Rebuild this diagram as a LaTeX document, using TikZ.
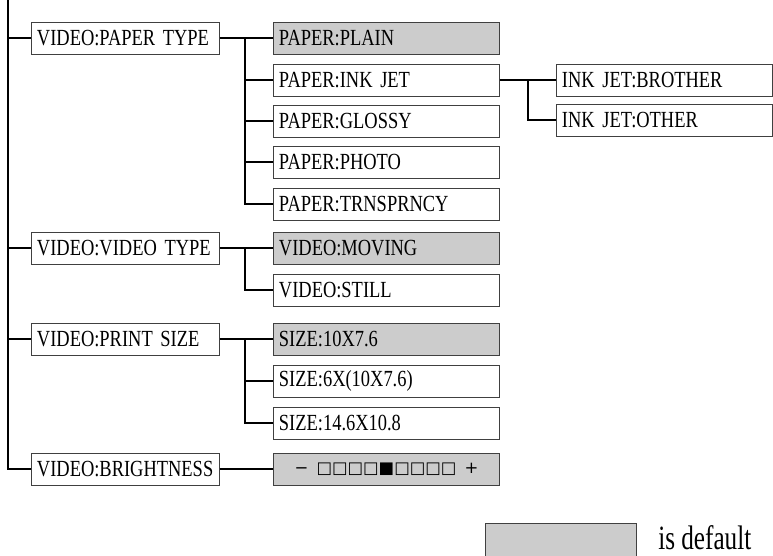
\documentclass[tikz,border=0pt]{standalone}
\usepackage{fontspec}
\setmainfont{Liberation Serif}
\newfontfamily\boxfont[FakeStretch=0.8]{Liberation Serif}
\newfontfamily\notefont[FakeStretch=0.74]{Liberation Serif}
\newfontfamily\symfont{DejaVu Sans}
\newcommand\menufont{\boxfont\fontsize{16.4}{18}\selectfont\fontdimen2\font=0.17em\relax}
\usetikzlibrary{calc}

\begin{document}
\begin{tikzpicture}[x=0.025cm, y=-0.025cm,
  menu/.style={draw=black!75, line width=0.7pt, minimum height=0.8cm, inner xsep=0.125cm, inner ysep=0pt, align=left, font=\menufont},
  mainbox/.style={menu, text width=4.425cm},
  subbox/.style={menu, text width=5.375cm},
  leafbox/.style={menu, text width=5.125cm},
  dflt/.style={fill=black!20},
  link/.style={line width=1.4pt}]

\useasboundingbox (0,0) rectangle (773,555);

% ---- first level ----------------------------------------------------------------
\node[mainbox] (pt) at (125.5,38)  {VIDEO:PAPER TYPE};
\node[mainbox] (vt) at (125.5,248) {VIDEO:VIDEO TYPE};
\node[mainbox] (ps) at (125.5,339) {VIDEO:PRINT SIZE};
\node[mainbox] (br) at (125.5,469) {VIDEO:BRIGHTNESS};

% ---- paper ----------------------------------------------------------------------
\node[subbox, dflt] (plain)  at (386.5,38)  {PAPER:PLAIN};
\node[subbox]       (inkjet) at (386.5,80)  {PAPER:INK JET};
\node[subbox]       (glossy) at (386.5,121) {PAPER:GLOSSY};
\node[subbox]       (photo)  at (386.5,162) {PAPER:PHOTO};
\node[subbox]       (trnsp)  at (386.5,204) {PAPER:TRNSPRNCY};

\node[leafbox] (brother) at (664.5,80)  {INK JET:BROTHER};
\node[leafbox] (other)   at (664.5,120) {INK JET:OTHER};

% ---- video ----------------------------------------------------------------------
\node[subbox, dflt] (moving) at (386.5,248) {VIDEO:MOVING};
\node[subbox]       (still)  at (386.5,290) {VIDEO:STILL};

% ---- size -----------------------------------------------------------------------
\node[subbox, dflt] (sza) at (386.5,339) {SIZE:10X7.6};
\node[subbox]       (szb) at (386.5,381) {SIZE:6X(10X7.6)};
\node[subbox]       (szc) at (386.5,423) {SIZE:14.6X10.8};

% ---- brightness -----------------------------------------------------------------
\node[subbox, dflt, align=center] (brt) at (386.5,469)
  {\symfont\fontsize{11.7}{14}\selectfont −\enspace□□□□■□□□□\enspace+};

% ---- connectors -----------------------------------------------------------------
\coordinate (trunk) at (8,0);
\coordinate (fork)  at (245,0);
\coordinate (forkb) at (528,0);

\draw[link] (trunk) |- (br.west);
\foreach \n in {pt,vt,ps}
  \draw[link] (trunk |- \n.west) -- (\n.west);

\draw[link] (pt.east) -- (plain.west);
\foreach \n in {inkjet,glossy,photo,trnsp}
  \draw[link] (pt.east -| fork) |- (\n.west);

\draw[link] (inkjet.east) -- (brother.west);
\draw[link] (inkjet.east -| forkb) |- (other.west);

\draw[link] (vt.east) -- (moving.west);
\draw[link] (vt.east -| fork) |- (still.west);

\draw[link] (ps.east) -- (sza.west);
\foreach \n in {szb,szc}
  \draw[link] (ps.east -| fork) |- (\n.west);

\draw[link] (br.east) -- (brt.west);

% ---- key ------------------------------------------------------------------------
\node[draw=black!75, line width=0.7pt, dflt, minimum width=3.75cm, minimum height=1cm] (key) at (561,543) {};
\node[anchor=base west, inner sep=0pt, font=\notefont\fontsize{24.2}{28}\selectfont] (keytxt) at (658,549) {is default};

\end{tikzpicture}
\end{document}
